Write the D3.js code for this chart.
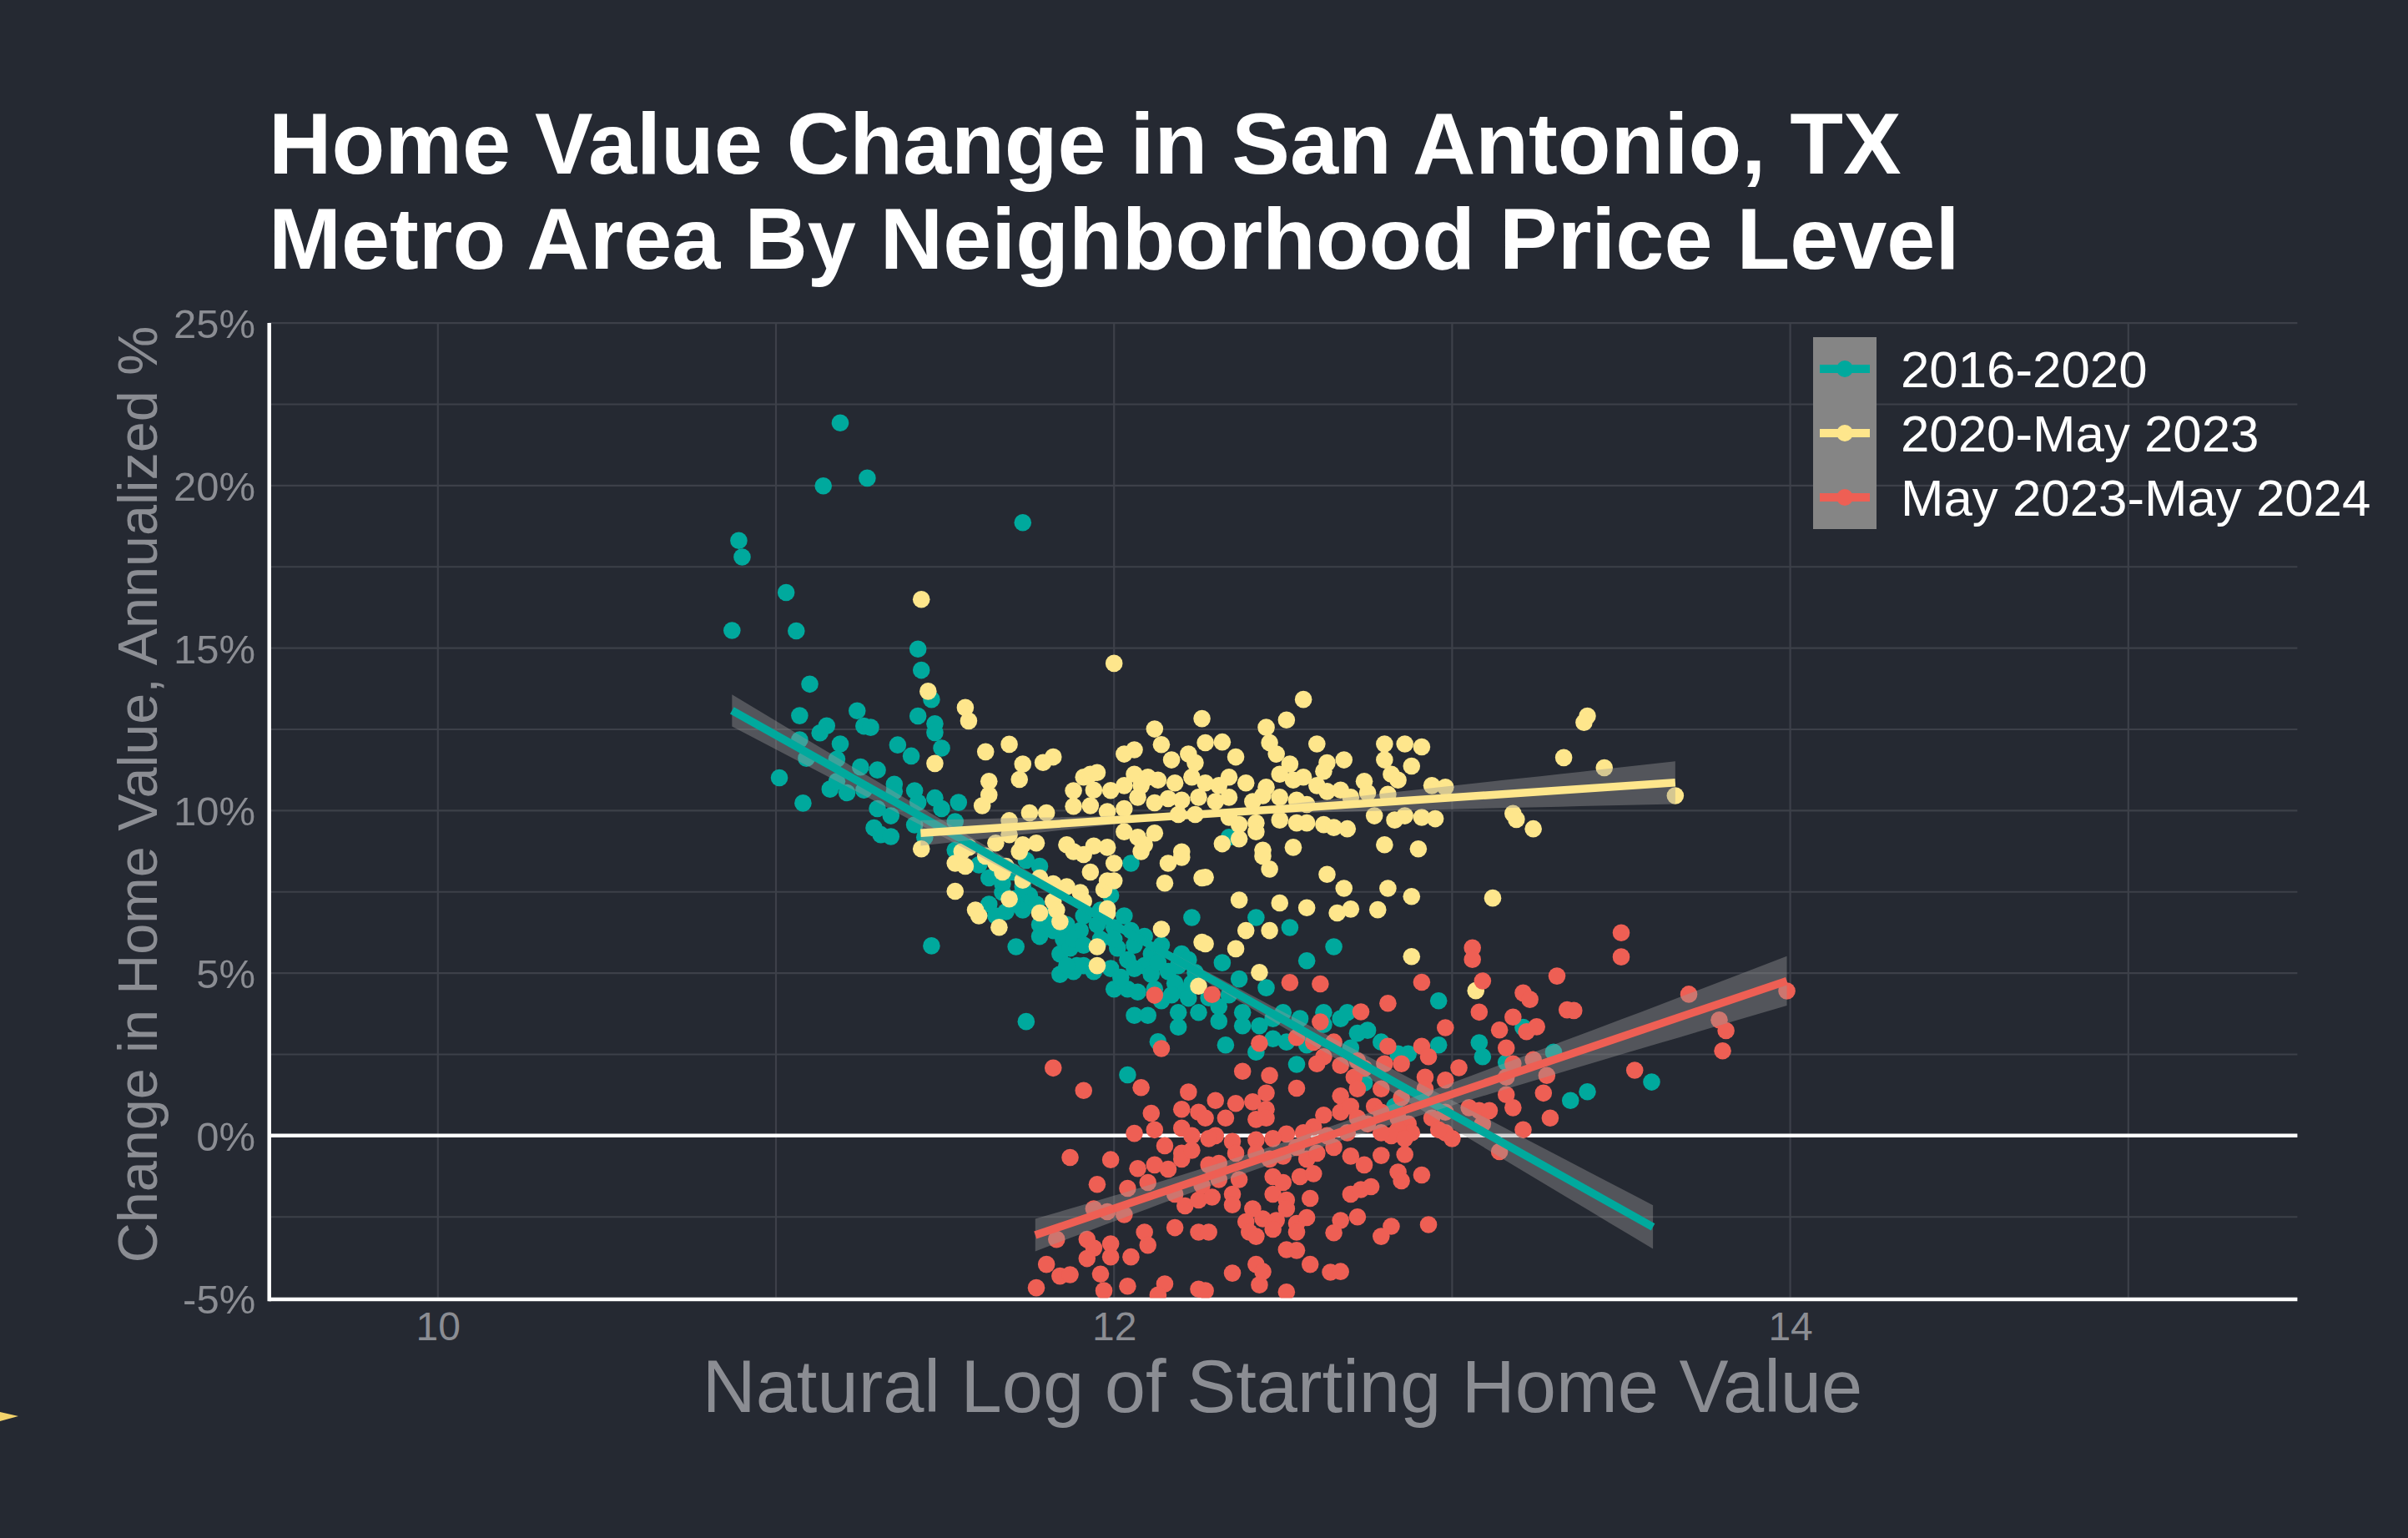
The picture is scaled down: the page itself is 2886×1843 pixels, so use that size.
<!DOCTYPE html>
<html>
<head>
<meta charset="utf-8">
<script src="https://cdn.jsdelivr.net/npm/d3@7"></script>
<style>
  html, body { margin: 0; padding: 0; background: #252932; }
  svg { display: block; }
</style>
</head>
<body>
<svg id="chart" width="2886" height="1843"></svg>
<script>
// ---------------- DATA ----------------
const seriesNames = ["2016-2020", "2020-May 2023", "May 2023-May 2024"];
const seriesColors = ["#00a99d", "#fee68c", "#ee5f54"];

const xTicks = [10, 12, 14];
const yTicks = [-5, 0, 5, 10, 15, 20, 25];
const xTitle = "Natural Log of Starting Home Value";
const yTitle = "Change in Home Value, Annualized %";
const titleLines = ["Home Value Change in San Antonio, TX", "Metro Area By Neighborhood Price Level"];

// [log starting value, annualized % change]
const pts2016 = [
[11.19,21.93],[11.14,19.99],[11.27,20.23],[11.73,18.86],[10.89,18.31],[10.90,17.80],[11.03,16.71],[10.87,15.54],[11.06,15.53],[11.42,14.97],[11.43,14.32],[11.46,13.42],[11.10,13.89],[11.42,12.91],[11.47,12.67],[11.47,12.40],[11.49,11.92],[11.07,12.92],[11.24,13.07],[11.15,12.61],[11.13,12.39],[11.26,12.60],[11.28,12.56],[11.19,12.05],[11.36,12.02],[11.40,11.68],[11.07,12.18],[11.09,11.61],[11.18,11.58],[11.25,11.34],[11.30,11.25],[11.01,11.01],[11.08,10.23],[11.16,10.66],[11.18,10.90],[11.21,10.55],[11.26,10.63],[11.35,10.81],[11.35,10.59],[11.41,10.61],[11.42,10.25],[11.47,10.39],[11.49,10.06],[11.54,10.25],[11.30,10.06],[11.34,9.84],[11.29,9.47],[11.31,9.26],[11.34,9.20],[11.41,9.56],[11.53,9.66],[11.44,9.18],
[12.34,9.18],
[11.53,8.78],[11.60,8.33],[11.65,8.02],[11.70,8.11],[11.78,8.29],[11.74,8.47],[11.63,7.12],[11.65,6.76],[11.68,6.89],[11.73,6.94],[11.71,7.30],[11.75,7.39],[11.67,7.75],[11.73,7.66],[11.78,6.49],[11.78,6.13],[11.82,6.31],[11.80,6.76],[11.85,6.04],[11.86,6.49],[11.90,6.31],[11.91,6.76],[11.95,6.49],[11.96,6.94],[11.99,7.39],[12.00,6.40],[12.03,6.76],[11.84,5.59],[11.87,5.77],[11.84,4.96],[11.88,5.05],[11.91,5.23],[11.94,5.05],[11.99,5.14],[12.00,4.51],[12.04,4.51],[12.07,4.42],[12.01,5.77],[12.04,5.41],[12.06,5.86],[12.09,6.13],[12.09,5.23],[12.11,4.96],[12.14,5.86],[12.14,4.15],[12.16,5.05],[12.18,4.69],[12.20,5.59],[12.21,4.42],[12.22,4.23],[12.24,5.02],[12.25,3.79],[12.19,3.79],[12.19,3.34],[12.06,3.70],[12.10,3.70],[12.13,2.89],[12.23,6.71],[12.05,8.38],[11.46,5.84],[11.71,5.81],[11.74,3.51],[12.04,1.87],
[11.63,7.93],[11.67,7.48],[11.70,7.12],[11.77,7.12],[11.88,6.04],[11.91,5.86],[11.96,6.04],[12.00,6.04],[12.05,6.31],[12.11,5.59],[12.06,5.14],[12.13,5.32],[12.02,4.87],[12.19,5.23],[12.22,5.41],[12.23,4.69],[12.12,4.51],[12.17,4.33],[11.89,5.23],[11.86,5.23],
[12.42,6.71],[12.52,6.40],[12.65,5.81],[12.57,5.38],[12.32,5.32],[12.37,4.82],[12.45,4.55],[12.28,4.24],[12.31,3.97],[12.34,4.33],[12.38,3.79],[12.31,3.52],[12.38,3.38],[12.43,3.38],[12.47,3.60],[12.50,3.79],[12.55,3.60],[12.47,2.98],[12.51,2.88],[12.57,2.79],[12.62,3.79],[12.62,3.42],[12.67,3.60],[12.69,3.79],[12.72,3.15],[12.75,3.24],[12.79,2.88],[12.84,2.52],[12.87,2.52],[12.33,2.79],[12.42,2.57],[12.54,2.19],[12.96,4.15],[12.96,2.79],[13.08,2.86],[13.09,2.43],[13.16,2.25],[13.30,2.57],[13.35,1.08],[12.70,2.70],[12.74,1.62],[12.83,0.90],[13.21,3.33],
[13.40,1.35],[13.59,1.65]
];

const pts2020 = [
[11.43,16.50],[11.45,13.67],[11.56,13.17],[11.57,12.76],[11.62,11.81],[11.69,12.04],[11.73,11.43],[11.72,10.96],[11.79,11.48],[11.82,11.65],[11.47,11.45],[11.63,10.90],[11.63,10.48],[11.61,10.15],[11.88,10.61],[11.88,10.13],[11.91,11.03],[11.69,9.69],[11.75,9.93],[11.80,9.93],[11.69,9.26],[11.43,8.82],[11.57,8.87],[11.65,9.00],[11.73,8.95],[11.77,9.00],[11.86,8.95],
[12.00,14.53],[12.56,13.42],[12.26,12.83],[12.51,12.79],[12.45,12.56],[12.12,12.51],[12.60,12.05],[12.68,11.56],[12.80,12.05],[12.86,12.05],[12.91,11.96],[12.06,11.87],[12.03,11.74],[12.14,12.03],[12.27,12.09],[12.32,12.11],[12.36,11.65],[12.46,12.09],[12.48,11.74],[12.52,11.43],[12.63,11.47],[12.62,11.21],[12.80,11.56],[12.88,11.37],[12.82,11.12],[12.84,10.94],[12.74,10.90],[12.17,11.56],[12.22,11.74],[12.24,11.47],[12.06,11.12],[12.10,11.03],[11.95,11.17],[11.93,11.12],[11.94,10.63],[11.99,10.62],[12.03,10.77],[12.08,10.77],[12.13,10.94],[12.18,10.85],[12.23,11.03],[12.27,10.85],[12.31,10.77],[12.34,11.03],[12.39,10.85],[12.45,10.72],[12.49,11.12],[12.53,10.94],[12.56,11.03],[12.60,10.77],[12.63,10.59],[12.67,10.63],[12.70,10.41],[12.75,10.55],[12.81,10.50],[12.94,10.77],[12.98,10.72],[11.93,10.15],[11.98,9.97],[12.03,10.06],[12.07,10.41],[12.12,10.24],[12.16,10.37],[12.20,10.32],[12.25,10.41],[12.30,10.28],[12.34,10.41],[12.41,10.28],[12.44,10.46],[12.49,10.41],[12.54,10.32],[12.57,10.19],[12.19,9.88],[12.24,9.88],[12.34,9.79],[12.37,9.57],[12.42,9.62],[12.49,9.71],[12.54,9.62],[12.57,9.62],[12.62,9.57],[12.65,9.48],[12.69,9.44],[12.77,9.84],[12.83,9.71],[12.86,9.84],[12.91,9.79],[12.95,9.75],[12.03,9.35],[12.07,9.18],[12.12,9.31],[12.42,9.35],[12.37,9.13],[12.32,8.98],[12.44,8.78],[12.53,8.87],[12.80,8.95],[12.90,8.82],[11.94,8.91],[11.98,8.87],[12.09,8.95],[12.20,8.73],
[13.40,12.91],[13.39,12.71],[13.33,11.63],[13.45,11.32],[13.66,10.46],[13.18,9.91],[13.19,9.73],[13.24,9.44],
[11.53,8.38],[11.56,8.29],[11.55,8.74],[11.62,8.60],[11.65,8.38],[11.68,8.29],[11.67,8.11],[11.53,7.52],[11.59,6.94],[11.60,6.76],[11.66,6.41],[11.69,7.28],[11.73,7.86],[11.78,7.93],[11.78,6.85],[11.82,7.75],[11.86,7.66],[11.82,7.21],[11.83,6.94],[11.84,6.58],[11.91,7.21],[11.90,7.48],[11.93,8.11],[11.97,7.57],[11.98,7.84],[11.98,6.85],[11.98,6.98],[11.95,5.81],[11.95,5.23],[12.00,8.38],[12.00,7.84],[12.15,7.77],[12.16,8.38],[12.20,8.56],[12.14,6.35],[12.26,7.93],[12.26,5.95],[12.25,4.60],[11.88,8.74],[11.91,8.65],[12.08,8.74],[11.72,8.74],
[12.27,7.95],[12.44,8.60],[12.46,8.20],[12.63,8.04],[12.68,7.61],[12.81,7.61],[12.88,7.36],[13.12,7.31],[12.37,7.25],[12.49,7.16],[12.57,7.01],[12.66,6.85],[12.70,6.97],[12.78,6.95],[12.39,6.31],[12.46,6.31],[12.27,5.90],[12.36,5.75],[12.88,5.51],[12.43,5.02],[13.07,4.46]
];

const pts2023 = [
[12.12,4.32],[12.14,2.68],[11.82,2.08],[11.91,1.39],[12.08,1.48],[12.22,1.34],[12.20,0.81],[12.11,0.69],[12.25,0.72],[12.12,0.18],[12.20,0.23],[12.06,0.07],[12.15,-0.31],[12.23,0.00],[11.87,-0.67],[11.99,-0.74],[12.07,-1.01],[12.12,-0.90],[12.16,-1.03],[12.20,-0.72],[12.20,-0.54],[12.23,-0.45],[11.95,-1.50],[12.04,-1.62],[12.10,-1.44],[12.18,-1.80],[12.21,-2.16],[11.94,-2.25],[11.98,-2.34],[12.03,-2.43],[12.25,-1.98],[11.83,-3.19],[11.92,-3.19],[11.94,-3.46],[11.99,-3.33],[11.99,-3.73],[12.05,-3.73],[12.09,-2.97],[12.10,-3.37],[12.18,-2.83],[12.25,-2.97],[11.92,-3.78],[11.80,-3.96],[11.84,-4.32],[11.87,-4.28],[11.96,-4.26],[11.77,-4.68],[11.97,-4.77],[12.04,-4.63],[12.15,-4.56],[12.13,-4.90],[12.25,-4.72],
[13.06,5.78],[13.06,5.42],[13.31,4.91],[13.09,4.76],[12.91,4.72],[12.52,4.71],[12.61,4.67],[12.29,4.34],[13.21,4.39],[13.23,4.19],[12.81,4.07],[12.73,3.81],[13.08,3.80],[13.34,3.87],[12.98,3.32],[13.18,3.65],[13.14,3.25],[13.22,3.20],[13.25,3.35],[12.61,3.50],[12.54,3.02],[12.59,2.87],[12.65,2.88],[12.43,2.84],[12.81,2.75],[12.91,2.75],[12.93,2.43],[13.16,2.70],[13.18,2.21],[13.24,2.34],[12.62,2.43],[12.60,2.21],[12.67,2.16],[12.72,2.30],[12.74,2.07],[12.80,2.21],[12.85,2.21],[13.02,2.09],[12.38,1.98],[12.46,1.85],[12.54,1.46],[12.71,1.80],[12.72,1.44],[12.79,1.44],[12.92,1.80],[12.92,1.44],[12.98,1.71],[13.16,1.80],[13.28,1.85],[13.27,1.31],[13.16,1.26],[13.18,0.86],[12.45,1.31],[12.67,1.22],[12.85,1.17],[12.30,1.08],[12.36,0.99],[12.41,1.04],[12.45,0.81],[12.27,0.54],[12.33,0.54],[12.42,0.50],[12.45,0.54],[12.62,0.63],[12.67,0.72],[12.70,0.90],[12.72,0.54],[12.77,0.90],[12.79,0.72],[12.84,0.54],[12.87,0.36],[12.88,0.09],[12.94,0.54],[12.98,0.72],[13.00,-0.09],[12.98,0.09],[12.96,0.18],[13.05,0.86],[13.08,0.77],[13.11,0.77],[13.09,0.36],[13.21,0.18],[13.29,0.54],[13.14,-0.49],[12.84,0.18],[12.82,0.00],[12.86,-0.09],[12.79,0.09],[12.75,0.36],[12.69,0.09],[12.63,0.00],[12.59,0.27],[12.56,0.09],[12.51,0.05],[12.47,-0.09],[12.42,-0.13],[12.35,-0.18],[12.30,0.00],[12.28,-0.09],[12.36,-0.54],[12.31,-0.85],[12.28,-0.90],[12.42,-0.54],[12.46,-0.72],[12.50,-0.63],[12.54,-0.36],[12.57,-0.72],[12.60,-0.54],[12.65,-0.36],[12.70,-0.63],[12.74,-0.90],[12.79,-0.61],[12.86,-0.58],[12.84,-1.12],[12.85,-1.39],[12.91,-1.21],[12.26,-1.53],[12.31,-1.35],[12.37,-1.35],[12.35,-1.80],[12.29,-1.89],[12.47,-1.26],[12.50,-1.44],[12.55,-1.26],[12.59,-1.17],[12.47,-1.80],[12.51,-1.98],[12.58,-1.93],[12.35,-2.13],[12.41,-2.25],[12.51,-2.25],[12.70,-1.80],[12.73,-1.66],[12.76,-1.57],[12.39,-2.65],[12.44,-2.56],[12.48,-2.61],[12.54,-2.70],[12.57,-2.52],[12.40,-2.97],[12.47,-2.88],[12.54,-2.97],[12.28,-2.97],[12.67,-2.61],[12.65,-2.99],[12.72,-2.50],[12.82,-2.79],[12.79,-3.10],[12.93,-2.74],[12.42,-3.10],[12.51,-3.51],[12.54,-3.53],[12.42,-3.96],[12.44,-4.18],[12.35,-4.23],[12.58,-3.96],[12.64,-4.20],[12.67,-4.18],[12.43,-4.59],[12.51,-4.81],[12.27,-4.77],
[13.50,6.24],[13.50,5.50],[13.70,4.35],[13.99,4.45],[13.36,3.85],[13.79,3.56],[13.81,3.23],[13.80,2.61],[13.54,2.01]
];

// fitted linear trend end points: [x0, x1], [y0, y1]
const fitX = [[10.87, 13.594], [11.428, 13.66], [11.767, 13.99]];
const fitY = [[13.08, -2.81], [9.31, 10.86], [-3.06, 4.76]];
// confidence band half-widths (percentage points) at knot positions
const bandX = [
  [10.87, 11.3, 11.7, 12.0, 12.4, 12.9, 13.594],
  [11.428, 11.8, 12.25, 12.7, 13.2, 13.66],
  [11.767, 12.1, 12.55, 13.0, 13.5, 13.99]
];
const bandHalf = [
  [0.49, 0.32, 0.18, 0.12, 0.20, 0.39, 0.67],
  [0.39, 0.22, 0.07, 0.22, 0.45, 0.66],
  [0.50, 0.36, 0.27, 0.35, 0.54, 0.76]
];
const allPoints = [pts2016, pts2020, pts2023];

// ---------------- DRAW ----------------
const svg = d3.select("#chart");
const W = 2886, H = 1843;
const FONT = "'Liberation Sans', Arial, Helvetica, sans-serif";
const grey = "#8b8d93";

svg.append("rect").attr("width", W).attr("height", H).attr("fill", "#252932");

const x = d3.scaleLinear().domain([9.5, 15.5]).range([322.2, 2753.4]);
const y = d3.scaleLinear().domain([-5, 25]).range([1555.6, 387.1]);

// clip for panel
svg.append("defs").append("clipPath").attr("id", "panel")
  .append("rect").attr("x", x(9.5)).attr("y", y(25)).attr("width", x(15.5) - x(9.5)).attr("height", y(-5) - y(25));

// gridlines
const grid = svg.append("g");
grid.selectAll("line.v").data(d3.range(10, 15.01, 1)).join("line")
  .attr("x1", d => x(d)).attr("x2", d => x(d))
  .attr("y1", y(25)).attr("y2", y(-5))
  .attr("stroke", "#3d4049").attr("stroke-width", 2.2);
grid.selectAll("line.h").data(d3.range(-5, 25.01, 2.5)).join("line")
  .attr("x1", x(9.5)).attr("x2", x(15.5))
  .attr("y1", d => y(d)).attr("y2", d => y(d))
  .attr("stroke", "#3d4049").attr("stroke-width", 2.2);

// zero line + axis lines
svg.append("line").attr("x1", x(9.5)).attr("x2", x(15.5)).attr("y1", y(0)).attr("y2", y(0))
  .attr("stroke", "#ffffff").attr("stroke-width", 4.5);
svg.append("line").attr("x1", x(9.5)).attr("x2", x(15.5)).attr("y1", y(-5) + 1.5).attr("y2", y(-5) + 1.5)
  .attr("stroke", "#ffffff").attr("stroke-width", 4.5);
svg.append("line").attr("x1", x(9.5) + 0.5).attr("x2", x(9.5) + 0.5).attr("y1", y(25)).attr("y2", y(-5) + 3.7)
  .attr("stroke", "#ffffff").attr("stroke-width", 4.5);

// axes (labels only)
const yAxis = svg.append("g").attr("transform", `translate(${x(9.5)},0)`)
  .call(d3.axisLeft(y).tickValues(yTicks).tickFormat(d => d + "%").tickSize(0).tickPadding(16));
yAxis.select(".domain").remove();
yAxis.selectAll("text").attr("font-family", FONT).attr("font-size", 49).attr("fill", grey).attr("dy", "0.36em");

const xAxis = svg.append("g").attr("transform", `translate(0,${y(-5)})`)
  .call(d3.axisBottom(x).tickValues(xTicks).tickFormat(d3.format("d")).tickSize(0).tickPadding(16));
xAxis.select(".domain").remove();
xAxis.selectAll("text").attr("font-family", FONT).attr("font-size", 48).attr("fill", grey);

// points
const pg = svg.append("g").attr("clip-path", "url(#panel)");
allPoints.forEach((pts, i) => {
  pg.append("g").selectAll("circle").data(pts).join("circle")
    .attr("cx", d => x(d[0])).attr("cy", d => y(d[1])).attr("r", 10.3)
    .attr("fill", seriesColors[i]);
});

// smooth bands and lines
const fg = svg.append("g").attr("clip-path", "url(#panel)");
allPoints.forEach((pts, i) => {
  const center = d3.scaleLinear().domain(fitX[i]).range(fitY[i]);
  const band = bandX[i].map((bx, k) => ({ x: bx, lo: center(bx) - bandHalf[i][k], hi: center(bx) + bandHalf[i][k] }));
  const area = d3.area().x(d => x(d.x)).y0(d => y(d.lo)).y1(d => y(d.hi)).curve(d3.curveNatural);
  fg.append("path").attr("d", area(band)).attr("fill", "rgba(153,153,153,0.4)");
  const line = d3.line().x(d => x(d[0])).y(d => y(d[1]));
  fg.append("path").attr("d", line([[fitX[i][0], fitY[i][0]], [fitX[i][1], fitY[i][1]]]))
    .attr("stroke", seriesColors[i]).attr("stroke-width", 9.5).attr("fill", "none");
});

// legend
const lg = svg.append("g");
lg.append("rect").attr("x", 2173).attr("y", 404).attr("width", 76).attr("height", 230).attr("fill", "#858585");
seriesNames.forEach((name, i) => {
  const cy = 442 + i * 77;
  lg.append("circle").attr("cx", 2211).attr("cy", cy).attr("r", 10).attr("fill", seriesColors[i]);
  lg.append("line").attr("x1", 2181).attr("x2", 2241).attr("y1", cy).attr("y2", cy)
    .attr("stroke", seriesColors[i]).attr("stroke-width", 10);
  lg.append("text").attr("x", 2278).attr("y", cy + 22).text(name)
    .attr("font-family", FONT).attr("font-size", 61.8).attr("fill", "#ffffff");
});

// titles
svg.append("text").attr("x", 1537).attr("y", 1692).attr("text-anchor", "middle")
  .attr("font-family", FONT).attr("font-size", 88.5).attr("fill", grey).text(xTitle);
svg.append("text").attr("transform", "translate(188,952) rotate(-90)").attr("text-anchor", "middle")
  .attr("font-family", FONT).attr("font-size", 66.5).attr("fill", grey).text(yTitle);

titleLines.forEach((t, i) => {
  svg.append("text").attr("x", 322).attr("y", 208 + i * 114)
    .attr("font-family", FONT).attr("font-weight", "bold").attr("font-size", 104.4)
    .attr("fill", "#ffffff").text(t);
});

// small marker at the left edge
svg.append("path").attr("d", "M0,1692 L22,1697 L0,1703 Z").attr("fill", "#f3d36b");
</script>
</body>
</html>
